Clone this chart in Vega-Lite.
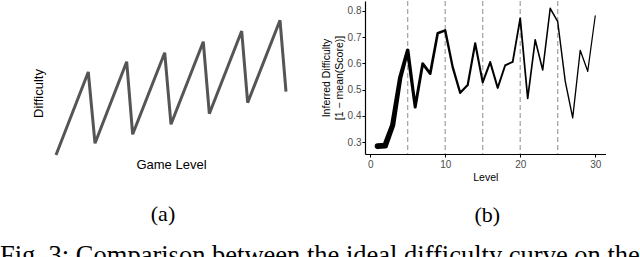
{
  "$schema": "https://vega.github.io/schema/vega-lite/v6.json",
  "background": "white",
  "padding": {"left": 0, "top": 0, "right": 0, "bottom": 0},
  "config": {"view": {"stroke": null}, "font": "Liberation Sans", "concat": {"spacing": 29}},
  "title": {"text": "Fig. 3: Comparison between the ideal difficulty curve on the", "orient": "bottom", "anchor": "start", "font": "Liberation Serif", "fontSize": 26.5, "fontWeight": "normal", "color": "black", "offset": 17, "dx": -32},
  "hconcat": [
    {
      "width": 230,
      "height": 154,
      "title": {"text": "(a)", "orient": "bottom", "frame": "group", "anchor": "middle", "font": "Liberation Serif", "fontSize": 22, "fontWeight": "normal", "color": "black", "offset": 33, "dx": -8},
      "data": {"values": [
        {"level": 0, "difficulty": 0},
        {"level": 4.21, "difficulty": 8.3},
        {"level": 5.09, "difficulty": 1.17},
        {"level": 9.22, "difficulty": 9.33},
        {"level": 10.0, "difficulty": 2.07},
        {"level": 14.18, "difficulty": 10.23},
        {"level": 15.0, "difficulty": 3.07},
        {"level": 19.21, "difficulty": 11.33},
        {"level": 20.0, "difficulty": 4.13},
        {"level": 24.22, "difficulty": 12.4},
        {"level": 25.0, "difficulty": 5.23},
        {"level": 29.22, "difficulty": 13.47},
        {"level": 30.0, "difficulty": 6.33}
      ]},
      "mark": {"type": "line", "color": "#555555", "strokeWidth": 3, "strokeJoin": "miter"},
      "encoding": {
        "x": {"field": "level", "type": "quantitative", "scale": {"domain": [0, 30], "nice": false, "zero": false},
          "axis": {"domain": false, "ticks": false, "labels": false, "grid": false, "title": "Game Level", "titleFontSize": 13, "titleFontWeight": "normal", "titleColor": "black", "titlePadding": 3}},
        "y": {"field": "difficulty", "type": "quantitative", "scale": {"domain": [0, 15.4], "nice": false, "zero": false},
          "axis": {"domain": false, "ticks": false, "labels": false, "grid": false, "title": "Difficulty", "titleFontSize": 13, "titleFontWeight": "normal", "titleColor": "black", "titlePadding": 11, "titleY": 92}}
      }
    },
    {
      "width": 240.5,
      "height": 153,
      "title": {"text": "(b)", "orient": "bottom", "frame": "group", "anchor": "middle", "font": "Liberation Serif", "fontSize": 22, "fontWeight": "normal", "color": "black", "offset": 22, "dx": 2},
      "layer": [
        {
          "data": {"values": [{"level": 5}, {"level": 10}, {"level": 15}, {"level": 20}, {"level": 25}]},
          "mark": {"type": "rule", "strokeDash": [5, 3], "color": "#a0a0a0", "strokeWidth": 1.2},
          "encoding": {
            "x": {"field": "level", "type": "quantitative", "scale": {"domain": [-0.69, 31.37], "nice": false, "zero": false}}
          }
        },
        {
          "data": {"values": [
            {"level": 1, "difficulty": 0.285, "players": 100},
            {"level": 2, "difficulty": 0.287, "players": 95},
            {"level": 3, "difficulty": 0.365, "players": 85},
            {"level": 4, "difficulty": 0.545, "players": 70},
            {"level": 5, "difficulty": 0.65, "players": 55},
            {"level": 6, "difficulty": 0.434, "players": 45},
            {"level": 7, "difficulty": 0.599, "players": 42},
            {"level": 8, "difficulty": 0.561, "players": 40},
            {"level": 9, "difficulty": 0.715, "players": 38},
            {"level": 10, "difficulty": 0.726, "players": 35},
            {"level": 11, "difficulty": 0.586, "players": 33},
            {"level": 12, "difficulty": 0.488, "players": 31},
            {"level": 13, "difficulty": 0.518, "players": 30},
            {"level": 14, "difficulty": 0.677, "players": 29},
            {"level": 15, "difficulty": 0.528, "players": 28},
            {"level": 16, "difficulty": 0.605, "players": 27},
            {"level": 17, "difficulty": 0.507, "players": 26},
            {"level": 18, "difficulty": 0.593, "players": 25},
            {"level": 19, "difficulty": 0.606, "players": 24},
            {"level": 20, "difficulty": 0.772, "players": 23},
            {"level": 21, "difficulty": 0.467, "players": 21},
            {"level": 22, "difficulty": 0.69, "players": 20},
            {"level": 23, "difficulty": 0.575, "players": 19},
            {"level": 24, "difficulty": 0.81, "players": 18},
            {"level": 25, "difficulty": 0.759, "players": 17},
            {"level": 26, "difficulty": 0.533, "players": 16},
            {"level": 27, "difficulty": 0.393, "players": 15},
            {"level": 28, "difficulty": 0.65, "players": 14},
            {"level": 29, "difficulty": 0.57, "players": 13},
            {"level": 30, "difficulty": 0.781, "players": 12}
          ]},
          "mark": {"type": "trail", "color": "black"},
          "encoding": {
            "x": {"field": "level", "type": "quantitative", "scale": {"domain": [-0.69, 31.37], "nice": false, "zero": false},
              "axis": {"values": [0, 10, 20, 30], "grid": false, "domainColor": "black", "domainWidth": 1.2, "tickColor": "black", "tickSize": 3, "labelFontSize": 10, "labelColor": "#4d4d4d", "labelPadding": 2, "title": "Level", "titleFontSize": 10.5, "titleFontWeight": "normal", "titleColor": "black", "titlePadding": 3}},
            "y": {"field": "difficulty", "type": "quantitative", "scale": {"domain": [0.255, 0.838], "nice": false, "zero": false},
              "axis": {"values": [0.3, 0.4, 0.5, 0.6, 0.7, 0.8], "format": ".1f", "grid": false, "domainColor": "black", "domainWidth": 1.2, "tickColor": "black", "tickSize": 3, "labelFontSize": 10, "labelColor": "#4d4d4d", "labelPadding": 1, "title": ["Inferred Difficulty", "[1 − mean(Score)]"], "titleFontSize": 10.5, "titleFontWeight": "normal", "titleColor": "black", "titleLineHeight": 12.3, "titlePadding": 3}},
            "size": {"field": "players", "type": "quantitative", "scale": {"domain": [12, 100], "range": [1.2, 6]}, "legend": null},
            "order": {"field": "level"}
          }
        }
      ]
    }
  ]
}
